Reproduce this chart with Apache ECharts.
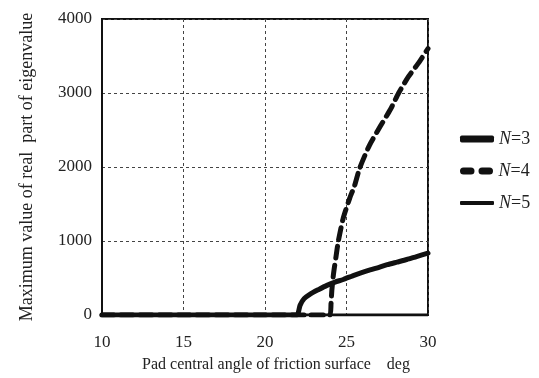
<!DOCTYPE html>
<html>
<head>
<meta charset="utf-8">
<script src="https://cdn.jsdelivr.net/npm/echarts@6/dist/echarts.min.js"></script>
<style>
  html, body { margin: 0; padding: 0; background: #fff; }
  #chart { width: 539px; height: 378px; }
</style>
</head>
<body>
<div id="chart"></div>
<script>
// angle (deg) / max real part of eigenvalue
var n3Angle = [10, 15, 20, 21.95, 22.15, 22.4, 22.75, 23.3, 23.8, 24.3, 24.8, 25.5, 26.3, 27, 27.5, 28.1, 28.7, 29.3, 30];
var n3Value = [0, 0, 0, 0, 130, 220, 280, 345, 400, 445, 480, 540, 600, 645, 680, 715, 750, 790, 835];

var n4Angle = [10, 15, 20, 23.98, 24.05, 24.1, 24.2, 24.35, 24.5, 24.8, 25.2, 25.5, 25.8, 26.4, 27.1, 27.7, 28.2, 28.8, 29.4, 30];
var n4Value = [0, 0, 0, 0, 150, 330, 550, 780, 1000, 1310, 1580, 1750, 1980, 2290, 2560, 2780, 3000, 3220, 3400, 3600];

var n5Angle = [10, 15, 20, 25, 30];
var n5Value = [0, 0, 0, 0, 0];

var seriesNames = ['N=3', 'N=4', 'N=5'];

function pairs(xs, ys) {
    return xs.map(function (x, i) { return [x, ys[i]]; });
}

var serif = '"Liberation Serif", "DejaVu Serif", serif';
var ink = '#111';
var chart = echarts.init(document.getElementById('chart'));

function legendItem(name, top, height, icon) {
    return {
        orient: 'vertical',
        left: 455,
        top: top,
        itemWidth: 34,
        itemHeight: height,
        itemGap: 0,
        icon: icon,
        data: [name],
        formatter: function (n) {
            return '{i|N}' + n.slice(1);
        },
        itemStyle: { color: ink },
        textStyle: {
            fontFamily: serif, fontSize: 18, color: '#222',
            rich: {
                i: { fontFamily: serif, fontStyle: 'italic', fontSize: 18, color: '#222' }
            }
        }
    };
}

var dashIcon = 'path://M3.5,0 H11 A3.5,3.5 0 0 1 11,7 H3.5 A3.5,3.5 0 0 1 3.5,0 Z ' +
               'M22,0 H29.5 A3.5,3.5 0 0 1 29.5,7 H22 A3.5,3.5 0 0 1 22,0 Z';

option = {
    animation: false,
    textStyle: { fontFamily: serif },
    grid: {
        left: 102, right: 111, top: 19, bottom: 60,
        show: true, borderColor: ink, borderWidth: 2
    },
    legend: [
        legendItem(seriesNames[0], 125, 7, 'roundRect'),
        legendItem(seriesNames[1], 157, 7, dashIcon),
        legendItem(seriesNames[2], 189, 4, 'roundRect')
    ],
    xAxis: {
        type: 'value',
        min: 10, max: 30, interval: 5,
        name: 'Pad central angle of friction surface    deg',
        nameLocation: 'middle',
        nameGap: 42,
        nameTextStyle: { fontFamily: serif, fontSize: 16, color: '#222', padding: [0, 0, 0, 22] },
        axisLine: { show: true, onZero: false, lineStyle: { color: ink, width: 2 } },
        axisTick: { show: false },
        axisLabel: { fontFamily: serif, fontSize: 17, color: '#222', margin: 19 },
        splitLine: { show: true, lineStyle: { color: '#444', type: [3, 3], width: 1 } }
    },
    yAxis: {
        type: 'value',
        min: 0, max: 4000, interval: 1000,
        name: 'Maximum value of real  part of eigenvalue',
        nameLocation: 'middle',
        nameGap: 66,
        nameTextStyle: { fontFamily: serif, fontSize: 18, color: '#222' },
        axisLine: { show: true, lineStyle: { color: ink, width: 2 } },
        axisTick: { show: false },
        axisLabel: {
            fontFamily: serif, fontSize: 17, color: '#222', margin: 10,
            formatter: function (v) { return String(v); }
        },
        splitLine: { show: true, lineStyle: { color: '#444', type: [3, 3], width: 1 } }
    },
    series: [
        {
            name: seriesNames[0], type: 'line', showSymbol: false, symbol: 'none', smooth: 0.2,
            data: pairs(n3Angle, n3Value), z: 3,
            itemStyle: { color: ink },
            lineStyle: { color: ink, width: 5, cap: 'round' }
        },
        {
            name: seriesNames[1], type: 'line', showSymbol: false, symbol: 'none', smooth: 0.2,
            data: pairs(n4Angle, n4Value), z: 4,
            itemStyle: { color: ink },
            lineStyle: { color: ink, width: 5, type: [12, 7], cap: 'round' }
        },
        {
            name: seriesNames[2], type: 'line', showSymbol: false, symbol: 'none',
            data: pairs(n5Angle, n5Value), z: 2,
            itemStyle: { color: ink },
            lineStyle: { color: ink, width: 3 }
        }
    ]
};

chart.setOption(option);
</script>
</body>
</html>
